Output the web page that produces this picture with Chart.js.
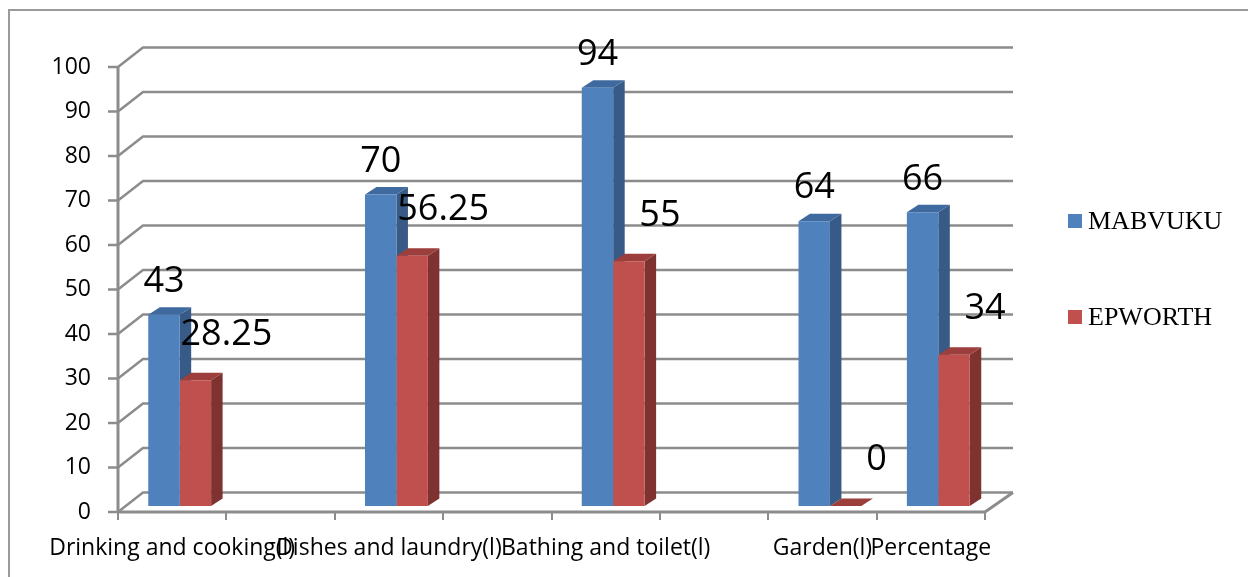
<!DOCTYPE html>
<html>
<head>
<meta charset="utf-8">
<script src="https://cdn.jsdelivr.net/npm/chart.js@4/dist/chart.umd.min.js"></script>
<style>
  html, body { margin: 0; padding: 0; background: #fff; }
  canvas { display: block; }
</style>
</head>
<body>
<canvas id="usage-chart" width="1248" height="577"></canvas>
<script>
// Water use per activity, Mabvuku vs Epworth (3D clustered column look)

const categories = ['Drinking and cooking(l)', '', 'Dishes and laundry(l)', '', 'Bathing and toilet(l)', '', 'Garden(l)', 'Percentage'];
const mabvuku = [43, null, 70, null, 94, null, 64, 66];
const epworth = [28.25, null, 56.25, null, 55, null, 0, 34];
const seriesNames = ['MABVUKU', 'EPWORTH'];
const yTicks = { min: 0, max: 100, step: 10 };

const FRONT = ['#4F81BD', '#C0504D'];
const SIDE = ['#375a86', '#7e3331'];
const TOP = ['#3f6a9f', '#9c3e3b'];
const GRID = '#8c8c8c';

// bars sit a little behind the front plane
const BAR_SHIFT = { x: 7.5, y: -6 };
const BAR_DEPTH = { x: 11.5, y: -7.5 };
// back wall offset of the gridlines
const WALL = { left: 25, right: 28, y: -19.5 };

function barGeom(el) {
  const p = el.getProps(['x', 'y', 'base', 'width'], true);
  return { left: p.x - p.width / 2, right: p.x + p.width / 2, top: p.y, base: p.base, x: p.x };
}

function poly(ctx, pts, fill) {
  ctx.beginPath();
  ctx.moveTo(pts[0][0], pts[0][1]);
  for (let i = 1; i < pts.length; i++) ctx.lineTo(pts[i][0], pts[i][1]);
  ctx.closePath();
  ctx.fillStyle = fill;
  ctx.fill();
}

// frame, walls and gridlines
const wallPlugin = {
  id: 'wall',
  beforeDraw(chart) {
    const ctx = chart.ctx;
    ctx.save();
    ctx.strokeStyle = '#9a9a9a';
    ctx.lineWidth = 2;
    ctx.beginPath();
    ctx.moveTo(9, 577);
    ctx.lineTo(9, 10);
    ctx.lineTo(1248, 10);
    ctx.stroke();
    ctx.restore();
  },
  beforeDatasetsDraw(chart) {
    const { ctx, chartArea: a, scales: { y } } = chart;
    ctx.save();
    ctx.strokeStyle = GRID;
    ctx.lineWidth = 2.5;
    ctx.lineCap = 'butt';
    y.ticks.forEach(t => {
      const py = y.getPixelForValue(t.value);
      ctx.beginPath();
      ctx.moveTo(a.left - 10, py);
      ctx.lineTo(a.left, py);
      ctx.lineTo(a.left + WALL.left, py + WALL.y);
      ctx.lineTo(a.right + WALL.right, py + WALL.y);
      ctx.stroke();
    });
    // floor front edge and its right side
    const p0 = y.getPixelForValue(0);
    ctx.lineWidth = 3;
    ctx.beginPath();
    ctx.moveTo(a.left, p0);
    ctx.lineTo(a.right, p0);
    ctx.lineTo(a.right + WALL.right, p0 + WALL.y);
    ctx.stroke();
    // front value axis
    ctx.beginPath();
    ctx.moveTo(a.left, y.getPixelForValue(yTicks.max));
    ctx.lineTo(a.left, p0);
    ctx.stroke();
    ctx.restore();
  }
};

// side and top faces, drawn before Chart.js paints the fronts
const bars3d = {
  id: 'bars3d',
  beforeDatasetsDraw(chart) {
    const ctx = chart.ctx;
    ctx.save();
    ctx.translate(BAR_SHIFT.x, BAR_SHIFT.y);
    const n = categories.length;
    for (let i = 0; i < n; i++) {
      chart.data.datasets.forEach((ds, di) => {
        if (ds.data[i] === null) return;
        const g = barGeom(chart.getDatasetMeta(di).data[i]);
        const dx = BAR_DEPTH.x, dy = BAR_DEPTH.y;
        poly(ctx, [[g.right, g.top], [g.right + dx, g.top + dy], [g.right + dx, g.base + dy], [g.right, g.base]], SIDE[di]);
        poly(ctx, [[g.left, g.top], [g.left + dx, g.top + dy], [g.right + dx, g.top + dy], [g.right, g.top]], TOP[di]);
      });
    }
  },
  afterDatasetsDraw(chart) {
    chart.ctx.restore();
    // value labels
    const ctx = chart.ctx;
    ctx.save();
    ctx.font = '36px "Open Sans"';
    ctx.fillStyle = '#000';
    ctx.textAlign = 'center';
    ctx.textBaseline = 'middle';
    chart.data.datasets.forEach((ds, di) => {
      chart.getDatasetMeta(di).data.forEach((el, i) => {
        const v = ds.data[i];
        if (v === null) return;
        const g = barGeom(el);
        const lx = g.x + BAR_SHIFT.x + (di === 0 ? 0 : 31);
        const ly = g.top + BAR_SHIFT.y - (di === 0 ? 33 : 46);
        ctx.fillText(String(v), lx, ly);
      });
    });
    ctx.restore();
  }
};

const legendPlugin = {
  id: 'sideLegend',
  afterDraw(chart) {
    const ctx = chart.ctx;
    const rows = [221, 317];
    ctx.save();
    ctx.font = '26px "Liberation Serif"';
    ctx.textBaseline = 'middle';
    ctx.textAlign = 'left';
    chart.data.datasets.forEach((ds, di) => {
      const cy = rows[di];
      ctx.fillStyle = ds.backgroundColor;
      ctx.fillRect(1068, cy - 7, 14, 14);
      ctx.fillStyle = '#000';
      ctx.fillText(ds.label, 1088, cy + 1);
    });
    ctx.restore();
  }
};

new Chart(document.getElementById('usage-chart'), {
  type: 'bar',
  data: {
    labels: categories,
    datasets: [
      { label: seriesNames[0], data: mabvuku, backgroundColor: FRONT[0] },
      { label: seriesNames[1], data: epworth, backgroundColor: FRONT[1] }
    ]
  },
  options: {
    responsive: false,
    devicePixelRatio: 1,
    animation: false,
    categoryPercentage: 0.58,
    barPercentage: 1,
    layout: { padding: { left: 0, top: 67, right: 263, bottom: 0 } },
    plugins: {
      legend: { display: false },
      tooltip: { enabled: false }
    },
    scales: {
      x: {
        grid: { display: true, drawOnChartArea: false, drawTicks: true, tickLength: 8, offset: true, color: GRID, lineWidth: 2 },
        border: { display: false },
        ticks: {
          autoSkip: false, maxRotation: 0, minRotation: 0, padding: 15,
          color: '#000', font: { family: 'Open Sans', size: 23 }
        },
        afterFit(s) { s.height = 65; }
      },
      y: {
        min: yTicks.min,
        max: yTicks.max,
        grid: { display: false, drawTicks: false },
        border: { display: false },
        ticks: {
          stepSize: yTicks.step, padding: 27,
          color: '#000', font: { family: 'Open Sans', size: 23 }
        },
        afterFit(s) { s.width = 118; }
      }
    }
  },
  plugins: [wallPlugin, bars3d, legendPlugin]
});
</script>
</body>
</html>
